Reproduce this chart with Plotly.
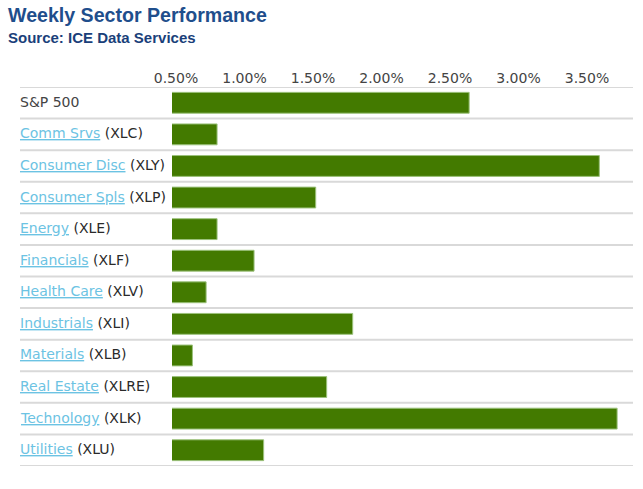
import plotly.graph_objects as go

names = ["S&P 500", "Comm Srvs", "Consumer Disc", "Consumer Spls", "Energy", "Financials",
         "Health Care", "Industrials", "Materials", "Real Estate", "Technology", "Utilities"]
tickers = ["", "XLC", "XLY", "XLP", "XLE", "XLF", "XLV", "XLI", "XLB", "XLRE", "XLK", "XLU"]
values = [2.64, 0.80, 3.59, 1.52, 0.80, 1.07, 0.72, 1.79, 0.62, 1.60, 3.72, 1.14]
tick_vals = [0.5, 1.0, 1.5, 2.0, 2.5, 3.0, 3.5]
tick_text = ["0.50%", "1.00%", "1.50%", "2.00%", "2.50%", "3.00%", "3.50%"]

W, H = 643, 489
L, R, T, B = 172, 10, 87, 23
plot_w = W - L - R
plot_h = H - T - B
x_left_paper = (20 - L) / plot_w
x_right_paper = (633 - L) / plot_w


def px_x(px):
    return (px - L) / plot_w


def px_y(px_from_top):
    return (H - B - px_from_top) / plot_h


fig = go.Figure()
fig.add_trace(go.Bar(
    x=values, y=list(range(len(names))), orientation="h",
    marker=dict(color="#437a00", line=dict(color="#9cc27c", width=1)),
    width=0.66, hoverinfo="skip",
))

annotations = []
for i, (n, t) in enumerate(zip(names, tickers)):
    if t:
        txt = ('<span style="text-decoration:underline;color:#6cc3e3">' + n +
               '</span> <span style="color:#2a2a2a">(' + t + ')</span>')
    else:
        txt = '<span style="color:#444444">' + n + '</span>'
    annotations.append(dict(
        x=x_left_paper, xref="paper", y=i, yref="y", text=txt, showarrow=False,
        xanchor="left", yanchor="middle", yshift=1, xshift=-2,
        font=dict(family="DejaVu Sans", size=14, color="#333333"),
    ))

annotations.append(dict(
    x=px_x(6), y=px_y(2), xref="paper", yref="paper", xanchor="left", yanchor="top",
    text="<b>Weekly Sector Performance</b>", showarrow=False,
    font=dict(family="Liberation Sans", size=19.6, color="#1f4e8c"),
))
annotations.append(dict(
    x=px_x(6), y=px_y(27), xref="paper", yref="paper", xanchor="left", yanchor="top",
    text="<b>Source: ICE Data Services</b>", showarrow=False,
    font=dict(family="Liberation Sans", size=15, color="#1a3f7a"),
))

shapes = []
for k in range(len(names) + 1):
    shapes.append(dict(
        type="line", xref="paper", yref="y", x0=x_left_paper, x1=x_right_paper,
        y0=k - 0.5, y1=k - 0.5, line=dict(color="#d9d9d9", width=2),
    ))

fig.update_layout(
    width=W, height=H,
    margin=dict(l=L, r=R, t=T, b=B, pad=0),
    paper_bgcolor="white", plot_bgcolor="white",
    showlegend=False,
    xaxis=dict(
        range=[0.471, 3.836], side="top", tickvals=tick_vals, ticktext=tick_text,
        showgrid=False, zeroline=False, showline=False,
        ticks="",
        tickfont=dict(family="DejaVu Sans", size=14, color="#444444"),
        fixedrange=True,
    ),
    yaxis=dict(
        range=[len(names) - 0.5, -0.5], showticklabels=False, showgrid=False,
        zeroline=False, showline=False, fixedrange=True,
    ),
    shapes=shapes,
    annotations=annotations,
)

fig.write_html("out.html", config={"displayModeBar": False},
               post_script="document.body.style.margin='0';")
